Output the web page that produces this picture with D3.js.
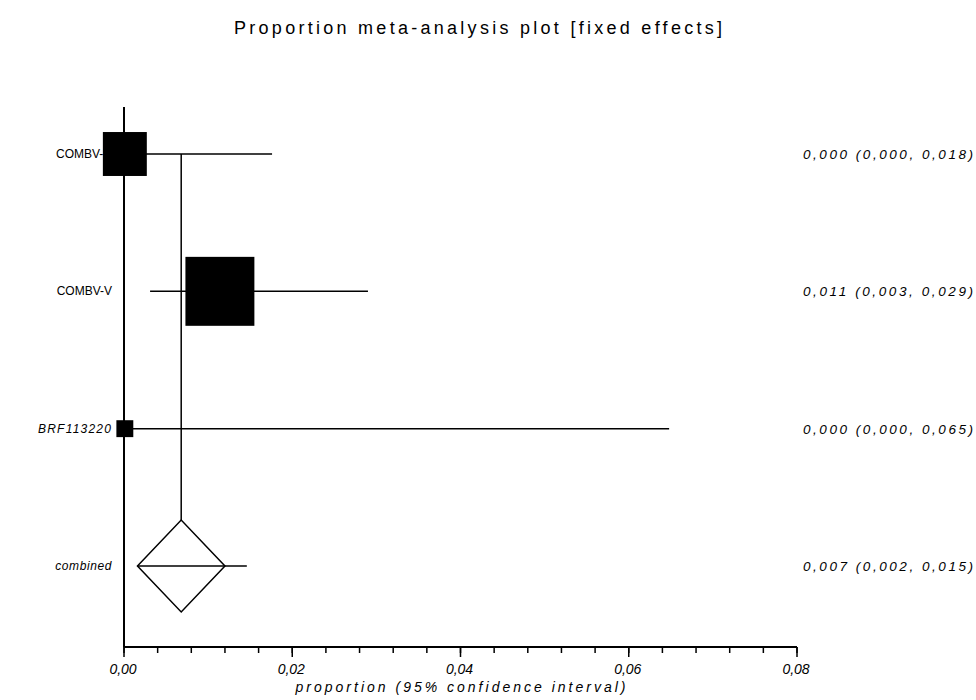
<!DOCTYPE html>
<html>
<head>
<meta charset="utf-8">
<script src="https://cdn.jsdelivr.net/npm/d3@7"></script>
<style>
  body { margin: 0; background: #fff; }
  svg text { font-family: "Liberation Sans", Arial, sans-serif; fill: #000; }
</style>
</head>
<body>
<script>
// Data
var studies = ["COMBV-C", "COMBV-V", "BRF113220"];
var estimates = [0.0001, 0.0114, 0.0001];
var lower = [0.000, 0.0031, 0.000];
var upper = [0.0176, 0.0290, 0.0648];
var weights = [27.7, 68.2, 4.1];       // percent, square area
var italicLabel = [false, false, true];

var pooledLabel = "combined";
var pooled = { est: 0.0068, lo: 0.0016, hi: 0.0146 };

var xTicks = [0, 0.02, 0.04, 0.06, 0.08];
var minorStep = 0.004;

var title = "Proportion meta-analysis plot [fixed effects]";
var xTitle = "proportion (95% confidence interval)";

var W = 976, H = 700;
var axisY = 647;

var fmt = function(v, n) { return v.toFixed(n).replace(".", ","); };

var svg = d3.select("body").append("svg")
    .attr("width", W)
    .attr("height", H);

var x = d3.scaleLinear().domain([0, 0.08]).range([124, 797]);
var y = d3.scalePoint()
    .domain(studies.concat([pooledLabel]))
    .range([154, 566]);
var side = d3.scaleSqrt().domain([0, 100]).range([0, 83.5]);

// title
svg.append("text")
    .attr("x", 478)
    .attr("y", 34)
    .attr("text-anchor", "middle")
    .attr("font-size", 18)
    .attr("textLength", 488)
    .attr("lengthAdjust", "spacing")
    .text(title);

// x axis
var minorTicks = d3.range(0, 0.08 + 1e-9, minorStep);
var axis = svg.append("g");
axis.append("line")
    .attr("x1", x(0)).attr("x2", x(0.08))
    .attr("y1", axisY).attr("y2", axisY)
    .attr("stroke", "#000").attr("stroke-width", 2);
axis.selectAll(".minor")
    .data(minorTicks)
    .enter()
    .append("line")
    .attr("x1", x).attr("x2", x)
    .attr("y1", axisY).attr("y2", axisY + 6)
    .attr("stroke", "#000").attr("stroke-width", 1.5);
axis.selectAll(".major")
    .data(xTicks)
    .enter()
    .append("line")
    .attr("x1", x).attr("x2", x)
    .attr("y1", axisY).attr("y2", axisY + 10)
    .attr("stroke", "#000").attr("stroke-width", 1.5);
axis.selectAll(".ticklabel")
    .data(xTicks)
    .enter()
    .append("text")
    .attr("x", function(d) { return x(d) - 1; })
    .attr("y", axisY + 27)
    .attr("text-anchor", "middle")
    .attr("font-size", 14)
    .attr("font-style", "italic")
    .text(function(d) { return fmt(d, 2); });

svg.append("text")
    .attr("x", (x(0) + x(0.08)) / 2)
    .attr("y", axisY + 45)
    .attr("text-anchor", "middle")
    .attr("font-size", 14)
    .attr("font-style", "italic")
    .attr("textLength", 330)
    .attr("lengthAdjust", "spacing")
    .text(xTitle);

// vertical zero line
svg.append("line")
    .attr("x1", x(0)).attr("x2", x(0))
    .attr("y1", 107).attr("y2", axisY)
    .attr("stroke", "#000").attr("stroke-width", 2);

// pooled estimate line
var dH = 46;
svg.append("line")
    .attr("x1", x(pooled.est)).attr("x2", x(pooled.est))
    .attr("y1", y(studies[0])).attr("y2", y(pooledLabel) - dH)
    .attr("stroke", "#000").attr("stroke-width", 1.5);

// study rows
var rows = svg.selectAll(".row")
    .data(studies)
    .enter()
    .append("g")
    .attr("class", "row");

rows.append("line")
    .attr("x1", function(d, i) { return x(lower[i]); })
    .attr("x2", function(d, i) { return x(upper[i]); })
    .attr("y1", function(d) { return y(d); })
    .attr("y2", function(d) { return y(d); })
    .attr("stroke", "#000").attr("stroke-width", 1.5);

rows.append("text")
    .attr("x", 112)
    .attr("y", function(d) { return y(d) + 4; })
    .attr("text-anchor", "end")
    .attr("font-size", 12)
    .attr("font-style", function(d, i) { return italicLabel[i] ? "italic" : "normal"; })
    .attr("letter-spacing", function(d, i) { return italicLabel[i] ? 1.2 : 0; })
    .text(function(d) { return d; });

rows.append("rect")
    .attr("x", function(d, i) { return x(estimates[i]) - side(weights[i]) / 2; })
    .attr("y", function(d, i) { return y(d) - side(weights[i]) / 2; })
    .attr("width", function(d, i) { return side(weights[i]); })
    .attr("height", function(d, i) { return side(weights[i]); })
    .attr("fill", "#000");

rows.append("text")
    .attr("x", 803)
    .attr("y", function(d) { return y(d) + 5; })
    .attr("font-size", 13.5)
    .attr("font-style", "italic")
    .attr("textLength", 170)
    .attr("lengthAdjust", "spacing")
    .text(function(d, i) {
        return fmt(estimates[i], 3) + " (" + fmt(lower[i], 3) + ", " + fmt(upper[i], 3) + ")";
    });

// combined diamond
var py = y(pooledLabel);
var halfW = x(pooled.est) - x(pooled.lo);
svg.append("path")
    .attr("d", "M" + x(pooled.lo) + "," + py +
        "L" + x(pooled.est) + "," + (py - dH) +
        "L" + (x(pooled.est) + halfW) + "," + py +
        "L" + x(pooled.est) + "," + (py + dH) + "Z")
    .attr("fill", "#fff")
    .attr("stroke", "#000")
    .attr("stroke-width", 1.5);
svg.append("line")
    .attr("x1", x(pooled.lo)).attr("x2", x(pooled.hi))
    .attr("y1", py).attr("y2", py)
    .attr("stroke", "#000").attr("stroke-width", 1.5);

svg.append("text")
    .attr("x", 112)
    .attr("y", py + 4)
    .attr("text-anchor", "end")
    .attr("font-size", 12)
    .attr("font-style", "italic")
    .attr("letter-spacing", 0.6)
    .text(pooledLabel);

svg.append("text")
    .attr("x", 803)
    .attr("y", py + 5)
    .attr("font-size", 13.5)
    .attr("font-style", "italic")
    .attr("textLength", 170)
    .attr("lengthAdjust", "spacing")
    .text(fmt(pooled.est, 3) + " (" + fmt(pooled.lo, 3) + ", " + fmt(pooled.hi, 3) + ")");
</script>
</body>
</html>
